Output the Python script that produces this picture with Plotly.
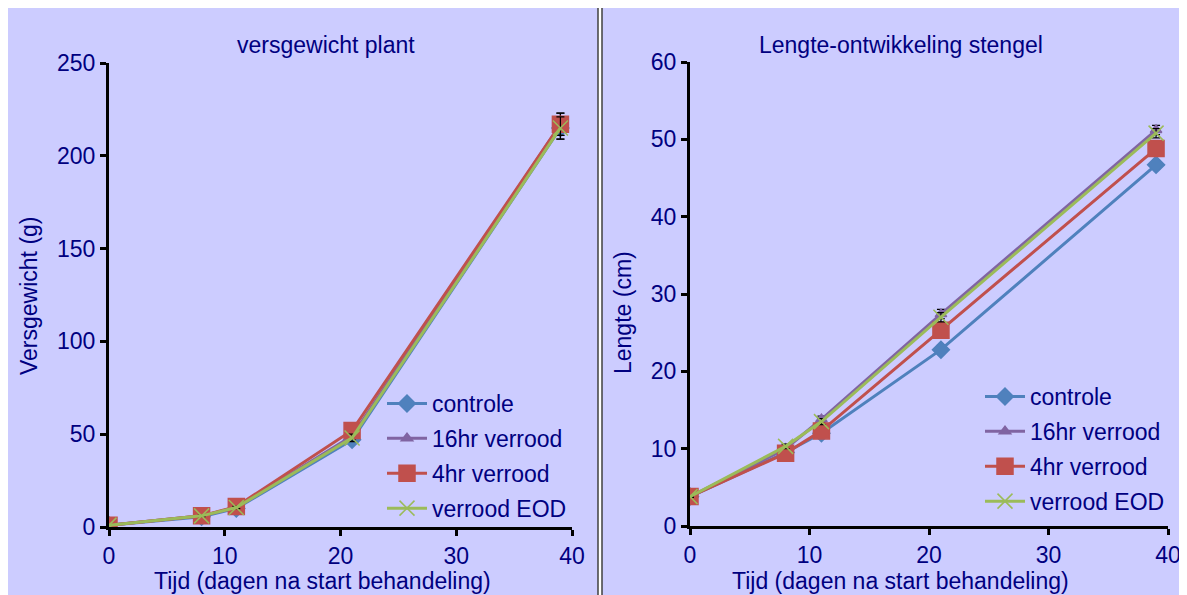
import plotly.graph_objects as go

# data
dagen = [0, 8, 11, 21, 39]
series_names = ["controle", "16hr verrood", "4hr verrood", "verrood EOD"]

gewicht_controle = [1.0, 5.5, 10.0, 47.0, 215.0]
gewicht_16hr = [1.0, 6.0, 10.5, 49.0, 217.0]
gewicht_4hr = [1.0, 6.0, 11.0, 52.0, 217.0]
gewicht_eod = [1.0, 6.0, 10.5, 48.0, 215.0]
gewicht_err = [0.2, 0.4, 0.6, 2.0, 6.0]

lengte_controle = [3.8, 9.5, 12.0, 22.8, 46.7]
lengte_16hr = [3.8, 10.0, 13.8, 27.4, 51.2]
lengte_4hr = [3.8, 9.4, 12.3, 25.3, 48.8]
lengte_eod = [3.8, 10.3, 13.5, 27.0, 50.8]
lengte_err = [0.1, 0.3, 0.4, 0.6, 0.6]

colors = ["#4F81BD", "#8064A2", "#C0504D", "#9BBB59"]
symbols = ["diamond", "triangle-up", "square", "x-thin"]
sizes = [13, 10, 16, 15]

W, H = 1187, 595
OFF = 8  # page body margin
NAVY = "#000080"
FONT = "Liberation Sans, Arial, sans-serif"


# screen pixel -> paper coords (figure starts OFF px into the page)
def px(x):
    return (x - OFF) / W


def py(y):
    return 1 - (y - OFF) / H


fig = go.Figure()

gewicht = [gewicht_controle, gewicht_16hr, gewicht_4hr, gewicht_eod]
lengte = [lengte_controle, lengte_16hr, lengte_4hr, lengte_eod]

for i, name in enumerate(series_names):
    for vals, xa, ya, lg in [(gewicht[i], "x", "y", "legend"), (lengte[i], "x2", "y2", "legend2")]:
        err = gewicht_err if xa == "x" else lengte_err
        fig.add_trace(go.Scatter(
            x=dagen, y=vals, name=name, xaxis=xa, yaxis=ya, legend=lg,
            legendgroup=lg + str(i),
            mode="lines+markers",
            line=dict(color=colors[i], width=3),
            marker=dict(symbol=symbols[i], size=sizes[i], color=colors[i],
                        line=dict(color=colors[i], width=1.5)),
            error_y=dict(type="data", array=err, color="black", thickness=1.2, width=4),
        ))

axis_common = dict(
    showgrid=False, zeroline=False, showline=True, linecolor="black", linewidth=3,
    ticks="outside", ticklen=6, tickwidth=3, tickcolor="black",
    tickfont=dict(family=FONT, size=23, color=NAVY),
)

fig.update_layout(
    width=W, height=H,
    margin=dict(l=0, r=0, t=0, b=0, autoexpand=False),
    paper_bgcolor="white",
    plot_bgcolor="#FFFFCC",
    font=dict(family=FONT, color=NAVY),
    xaxis=dict(domain=[px(109), px(572)], range=[0, 40], dtick=10, anchor="y", **axis_common),
    yaxis=dict(domain=[py(527), py(63)], range=[0, 250], dtick=50, anchor="x", **axis_common),
    xaxis2=dict(domain=[px(690), px(1168)], range=[0, 40], dtick=10, anchor="y2", **axis_common),
    yaxis2=dict(domain=[py(526), py(62)], range=[0, 60], dtick=10, anchor="x2", **axis_common),
    legend=dict(x=px(382), y=py(382), xanchor="left", yanchor="top", bgcolor="rgba(0,0,0,0)",
                font=dict(family=FONT, size=23, color=NAVY), tracegroupgap=2, itemwidth=40),
    legend2=dict(x=px(980), y=py(375), xanchor="left", yanchor="top", bgcolor="rgba(0,0,0,0)",
                 font=dict(family=FONT, size=23, color=NAVY), tracegroupgap=2, itemwidth=40),
    shapes=[
        dict(type="rect", xref="paper", yref="paper", x0=px(6), x1=px(598), y0=py(600), y1=py(7),
             fillcolor="#CCCCFF", line=dict(color="#404040", width=1.5), layer="below"),
        dict(type="rect", xref="paper", yref="paper", x0=px(602), x1=px(1186), y0=py(600), y1=py(7),
             fillcolor="#CCCCFF", line=dict(color="#404040", width=1.5), layer="below"),
    ],
)

labels = [
    ("versgewicht plant", 326, 45, 0),
    ("Lengte-ontwikkeling stengel", 901, 45, 0),
    ("Tijd (dagen na start behandeling)", 322, 581, 0),
    ("Tijd (dagen na start behandeling)", 900, 581, 0),
    ("Versgewicht (g)", 29, 296, -90),
    ("Lengte (cm)", 623, 312, -90),
]
for text, x, y, ang in labels:
    fig.add_annotation(text=text, x=px(x), y=py(y), xref="paper", yref="paper",
                       xanchor="center", yanchor="middle", showarrow=False,
                       textangle=ang, font=dict(size=23))

fig.write_html("out.html")
